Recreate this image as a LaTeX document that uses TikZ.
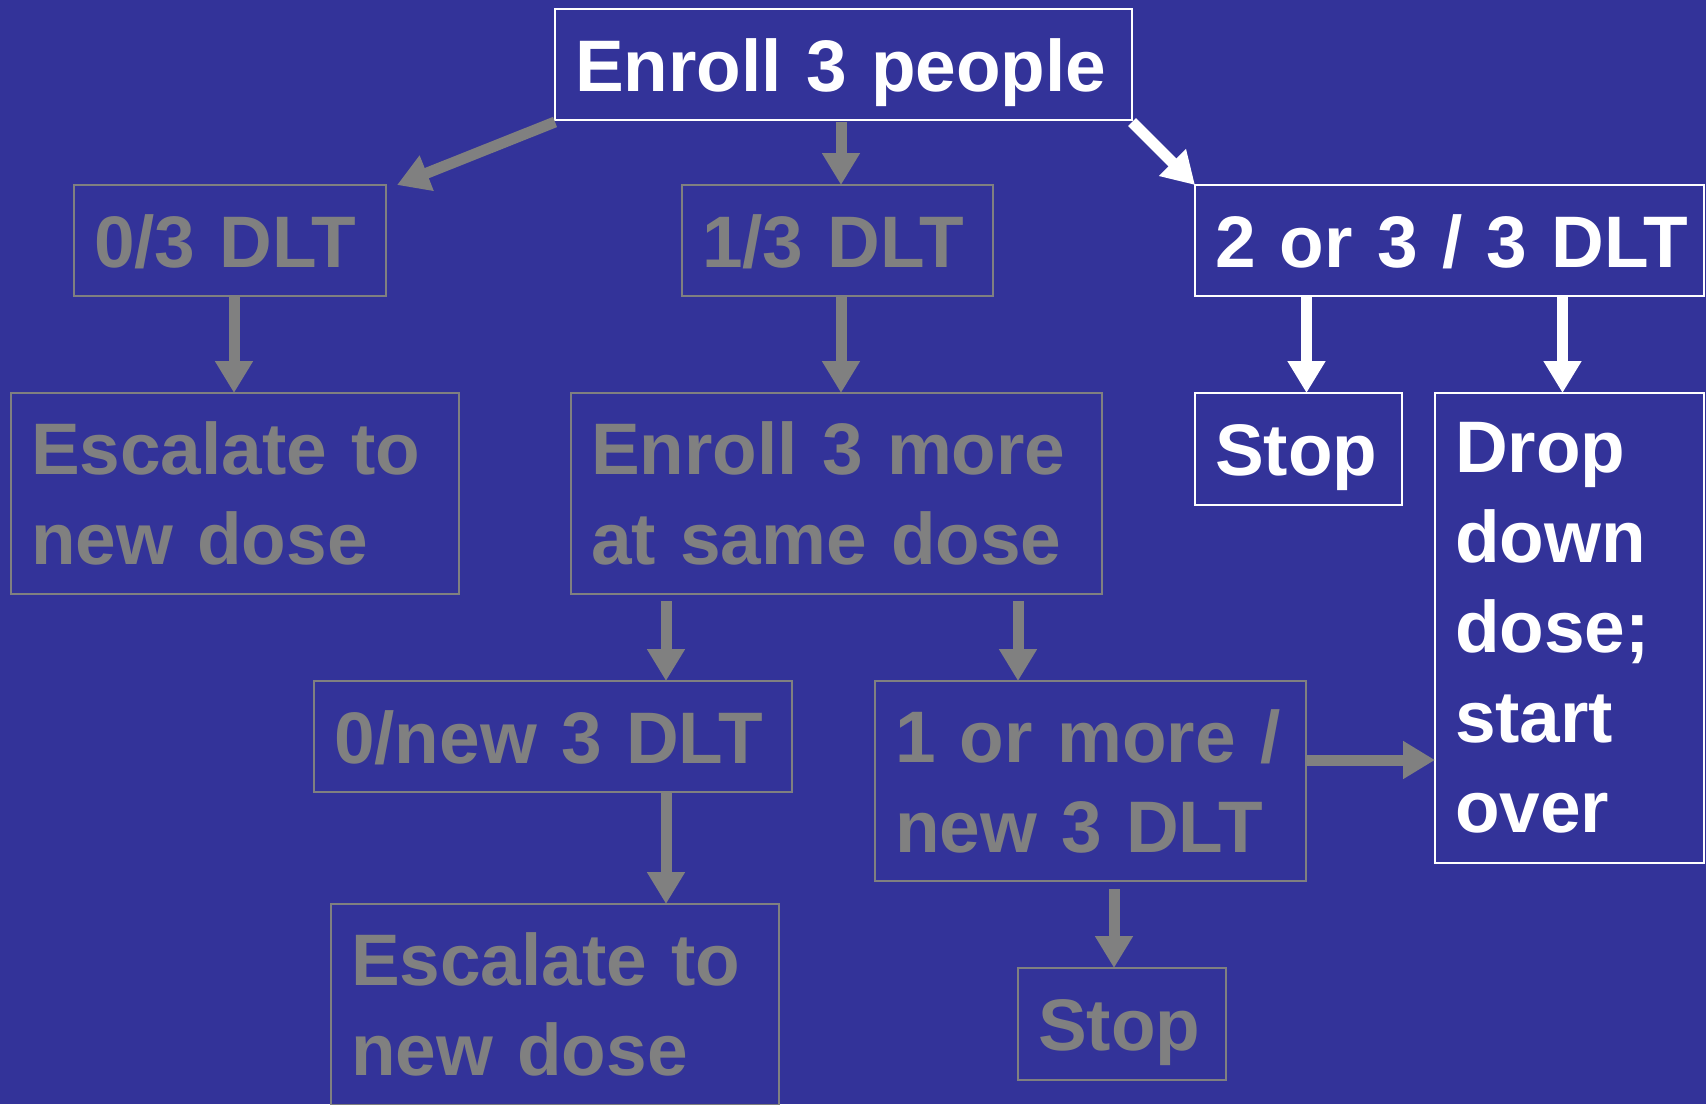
\documentclass[tikz,border=0pt]{standalone}
\usepackage{fontspec}
\setmainfont{Liberation Sans}
\usetikzlibrary{arrows.meta,calc}
\definecolor{bgblue}{HTML}{333399}
\definecolor{boxgray}{HTML}{808080}
\tikzset{
  bx/.style={rectangle, draw, line width=2.5pt, anchor=north west, inner xsep=20pt, inner ysep=0pt, outer sep=0pt,
    align=left, font=\fontsize{73}{90}\selectfont\bfseries},
  wbox/.style={bx, draw=white, text=white},
  gbox/.style={bx, draw=boxgray, text=boxgray},
  one line/.style={text height=53pt, text depth=0pt},
  arr/.style={line width=11pt, -{Triangle[width=36pt,length=32pt]}},
  warrow/.style={arr, draw=white, fill=white},
  garrow/.style={arr, draw=boxgray, fill=boxgray},
}
\begin{document}
\begin{tikzpicture}[x=1pt,y=-1pt]
\useasboundingbox (0,0) rectangle (1706,1104);
\fill[bgblue] (0,0) rectangle (1706,1104);
\begin{scope}
\clip (0,0) rectangle (1706,1104);
\node[wbox, one line, text width=537pt, minimum height=111pt] (enroll) at (555,9) {\mbox{Enroll 3 people}};
\node[gbox, one line, text width=272pt, minimum height=111pt] (zero) at (74,185) {\mbox{0/3 DLT}};
\node[gbox, one line, text width=271pt, minimum height=111pt] (one) at (682,185) {\mbox{1/3 DLT}};
\node[wbox, one line, text width=469pt, minimum height=111pt] (two) at (1195,185) {\mbox{2 or 3 / 3 DLT}};
\node[gbox, text width=408pt, minimum height=201pt] (esc1) at (11,393) {\mbox{Escalate to}\\new dose};
\node[gbox, text width=491pt, minimum height=201pt] (more) at (571,393) {\mbox{Enroll 3 more}\\\mbox{at same dose}};
\node[wbox, one line, text width=167pt, minimum height=112pt] (stop) at (1195,393) {\mbox{Stop}};
\node[wbox, text width=229pt, minimum height=470pt] (drop) at (1435,393) {Drop\\down\\dose;\\start\\over};
\node[gbox, one line, text width=438pt, minimum height=111pt] (zn) at (314,681) {\mbox{0/new 3 DLT}};
\node[gbox, text width=391pt, minimum height=200pt] (om) at (875,681) {\mbox{1 or more /}\\\mbox{new 3 DLT}};
\node[gbox, text width=408pt, minimum height=201pt] (esc2) at (331,904) {\mbox{Escalate to}\\new dose};
\node[gbox, one line, text width=168pt, minimum height=112pt] (stop2) at (1018,968) {\mbox{Stop}};
\end{scope}
\coordinate (c1) at (666,0);
\coordinate (c2) at (1018,0);
\coordinate (c3) at (1114,0);
\coordinate (c4) at (0,760);
\coordinate (c5) at (841,0);
\coordinate (c6) at (234,0);
% arrows
\draw[garrow] ($(enroll.south west)+(0,2)$) -- ($(zero.north east)+(11,0)$);
\draw[garrow] ($(enroll.south -| c5)+(0,2)$) -- (one.north -| c5);
\draw[warrow] ($(enroll.south east)+(0,2)$) -- (two.north west);
\draw[garrow] (zero.south -| c6) -- (esc1.north -| c6);
\draw[garrow] (one.south -| c5) -- (more.north -| c5);
\draw[warrow] ($(two.south -| stop.north)+(8,0)$) -- ($(stop.north)+(8,0)$);
\draw[warrow] ($(two.south -| drop.north)+(-7,0)$) -- ($(drop.north)+(-7,0)$);
\draw[garrow] ($(more.south -| c1)+(0,7)$) -- (zn.north -| c1);
\draw[garrow] ($(more.south -| c2)+(0,7)$) -- (om.north -| c2);
\draw[garrow] (zn.south -| c1) -- (esc2.north -| c1);
\draw[garrow] ($(om.south -| c3)+(0,8)$) -- (stop2.north -| c3);
\draw[garrow] (om.east |- c4) -- (drop.west |- c4);
\end{tikzpicture}
\end{document}
